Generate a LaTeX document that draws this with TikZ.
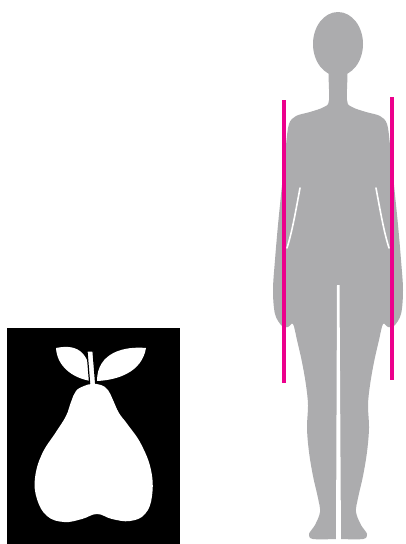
\documentclass[tikz,border=0pt]{standalone}
\usepackage{xcolor}
\usepackage{tikz}
\definecolor{skin}{RGB}{172,172,174}
\definecolor{tape}{RGB}{236,0,140}

% left half of the figure, mirrored for the right half
\newcommand{\bodyhalf}{%
  \fill[skin] plot[smooth, tension=0.55] coordinates {
    (338,62) (329,66) (329,100) (324,107) (310,112) (296,116) (289,124)
    (286,145) (282,185) (278,225) (275,260) (273,290) (275,314) (282,326)
    (288,327) (293,324) (297,340) (302,362) (306,385) (308,405) (307,428)
    (309,452) (313,476) (318,498) (320,512) (315,525) (309,534) (313,539)
    (336,539)} -- (338,539) -- cycle;
  \draw[gap] (300,188) .. controls (295,215) and (292,232) .. (287,248);
}

\begin{document}
\begin{tikzpicture}[x=1pt, y=-1pt,
    gap/.style={white, line width=1.6pt, line cap=round},
    tapeline/.style={tape, line width=3.4pt}]
  \useasboundingbox (0,0) rectangle (405,544);
  \fill[white] (0,0) rectangle (405,544);

  % pear icon
  \fill[black] (7,328) rectangle (180,544);
  \fill[white] (56,348) .. controls (80,343) and (90,355) .. (91,381)
    .. controls (72,378) and (57,366) .. cycle;
  \fill[white] (97,381) .. controls (97,352) and (125,346) .. (146,348)
    .. controls (142,372) and (118,380) .. cycle;
  \filldraw[fill=white, draw=black, line width=1.2pt]
    (87,351) -- (93,351) -- (96,388) -- (90,388) -- cycle;
  \fill[white] plot[smooth cycle, tension=0.7] coordinates {
    (92,384) (101,385) (108,390) (113,400) (119,413) (128,425) (141,444)
    (151,470) (152,496) (145,514) (130,521) (112,519) (97,514) (82,519)
    (64,522) (47,516) (37,499) (35,478) (42,454) (56,432) (66,416)
    (71,402) (76,391) (84,386)};

  % figure
  \fill[skin] (338,44) ellipse [x radius=25pt, y radius=32pt];
  \bodyhalf
  \begin{scope}[shift={(676,0)}, xscale=-1]
    \bodyhalf
  \end{scope}
  \fill[white] (337,285) -- (339.5,285) -- (341,544) -- (336,544) -- cycle;

  % measuring lines
  \coordinate (lt) at (284,100);
  \coordinate (lb) at (284,383);
  \coordinate (rt) at (392,97);
  \coordinate (rb) at (392,380);
  \draw[tapeline] (lt) -- (lb);
  \draw[tapeline] (rt) -- (rb);
\end{tikzpicture}
\end{document}
